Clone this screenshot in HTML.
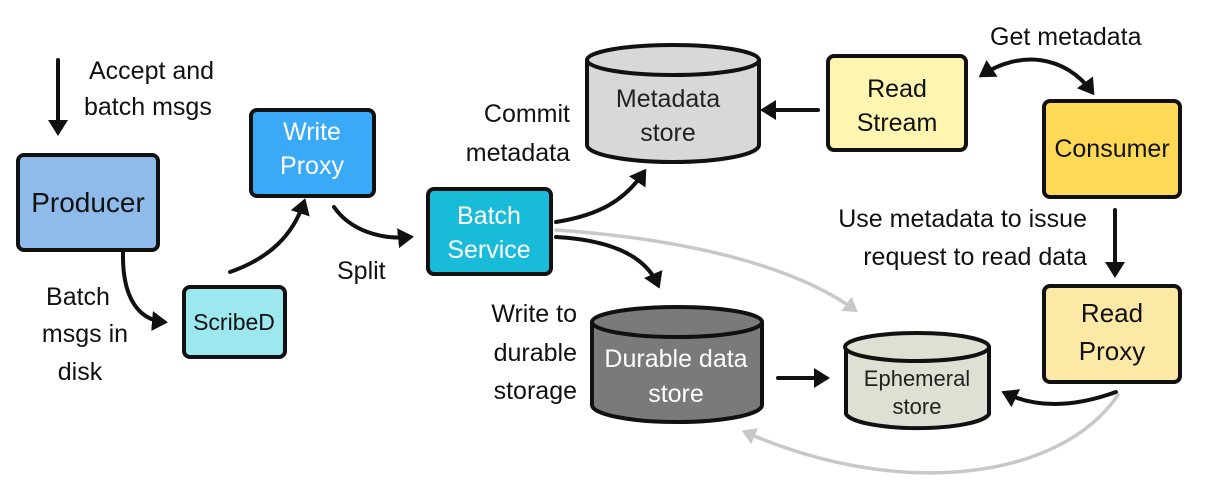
<!DOCTYPE html>
<html><head><meta charset="utf-8"><style>
html,body{margin:0;padding:0;background:#fff;}
svg{display:block;}
text{font-family:"Liberation Sans",sans-serif;}
</style></head><body>
<svg width="1214" height="498" viewBox="0 0 1214 498" xmlns="http://www.w3.org/2000/svg">
<defs>
<marker id="a" markerWidth="5" markerHeight="5" refX="3" refY="2.5" orient="auto" markerUnits="strokeWidth"><path d="M0,0 L4,2.5 L0,5 Z" fill="#111"/></marker>
<marker id="g" markerWidth="5" markerHeight="5" refX="3" refY="2.5" orient="auto" markerUnits="strokeWidth"><path d="M0,0 L4,2.5 L0,5 Z" fill="#c8c8c8"/></marker>
<marker id="s" markerWidth="5" markerHeight="5" refX="1" refY="2.5" orient="auto" markerUnits="strokeWidth"><path d="M4,0 L0,2.5 L4,5 Z" fill="#111"/></marker>
</defs>
<g stroke="#111" stroke-width="4" stroke-linejoin="round">
<rect x="18" y="155" width="140" height="95" rx="6" fill="#8fbbea"/>
<rect x="251" y="110" width="123" height="86" rx="6" fill="#3aa9f7"/>
<rect x="184" y="287" width="101" height="70" rx="6" fill="#9ce8ee"/>
<rect x="428" y="189" width="123" height="85" rx="6" fill="#18bcd8"/>
<rect x="828" y="56" width="138" height="94" rx="6" fill="#fdf5b0"/>
<rect x="1044" y="101" width="136" height="96" rx="6" fill="#fdd955"/>
<rect x="1044" y="286" width="136" height="96" rx="6" fill="#fde9a6"/>
<path d="M587,60 L587,145 A86,17 0 0 0 759,145 L759,60 Z" fill="#d8d8d8"/>
<ellipse cx="673" cy="60" rx="86" ry="15" fill="#d8d8d8"/>
<path d="M592,322 L592,405 A85,17 0 0 0 762,405 L762,322 Z" fill="#7a7a7a"/>
<ellipse cx="677" cy="322" rx="85" ry="15" fill="#7a7a7a"/>
<path d="M846,347 L846,414 A72,16 0 0 0 989,414 L989,347 Z" fill="#dde0d3"/>
<ellipse cx="917" cy="347" rx="72" ry="14" fill="#dde0d3"/>
</g>
<g fill="none" stroke="#111" stroke-width="4" stroke-linecap="round">
<path d="M58,60 L58,132" marker-end="url(#a)"/>
<path d="M123,252 C122,300 140,320 164,322" marker-end="url(#a)"/>
<path d="M230,272 C270,258 293,235 304,202" marker-end="url(#a)"/>
<path d="M334,207 C350,230 380,240 410,237" marker-end="url(#a)"/>
<path d="M556,222 C600,215 625,200 644,172" marker-end="url(#a)"/>
<path d="M556,237 C610,240 645,255 658,285" marker-end="url(#a)"/>
<path d="M818,110 L764,110" marker-end="url(#a)"/>
<path d="M982,75 C1020,50 1065,55 1092,92" marker-end="url(#a)" marker-start="url(#s)"/>
<path d="M1115,210 L1115,274" marker-end="url(#a)"/>
<path d="M778,378 L826,378" marker-end="url(#a)"/>
<path d="M1116,392 C1080,405 1040,410 1005,393" marker-end="url(#a)"/>
</g>
<g fill="none" stroke="#c8c8c8" stroke-width="3.5" stroke-linecap="round">
<path d="M556,230 C700,240 800,270 855,310" marker-end="url(#g)"/>
<path d="M1118,395 C1060,480 900,500 745,432" marker-end="url(#g)"/>
</g>
<g font-size="25" fill="#111">
<text x="89" y="79">Accept and</text>
<text x="84" y="115">batch msgs</text>
<text x="88" y="212" font-size="28" text-anchor="middle">Producer</text>
<text x="312" y="140" fill="#fff" text-anchor="middle">Write</text>
<text x="312" y="174" fill="#fff" text-anchor="middle">Proxy</text>
<text x="234" y="330" font-size="23" text-anchor="middle">ScribeD</text>
<g text-anchor="middle"><text x="78" y="305">Batch</text><text x="85" y="342">msgs in</text><text x="80" y="380">disk</text></g>
<text x="337" y="279">Split</text>
<g text-anchor="end"><text x="570" y="122">Commit</text><text x="570" y="161">metadata</text>
<text x="577" y="322">Write to</text><text x="577" y="361">durable</text><text x="577" y="399">storage</text>
<text x="1087" y="227">Use metadata to issue</text><text x="1087" y="265">request to read data</text></g>
<text x="489" y="224" fill="#fff" text-anchor="middle">Batch</text>
<text x="489" y="258" fill="#fff" text-anchor="middle">Service</text>
<text x="668" y="107" fill="#222" text-anchor="middle">Metadata</text>
<text x="668" y="141" fill="#222" text-anchor="middle">store</text>
<text x="897" y="97" text-anchor="middle">Read</text>
<text x="897" y="131" text-anchor="middle">Stream</text>
<text x="990" y="45">Get metadata</text>
<text x="1112" y="157" text-anchor="middle">Consumer</text>
<text x="1112" y="322" font-size="26" text-anchor="middle">Read</text>
<text x="1112" y="360" font-size="26" text-anchor="middle">Proxy</text>
<text x="676" y="367" fill="#fff" text-anchor="middle">Durable data</text>
<text x="676" y="402" fill="#fff" text-anchor="middle">store</text>
<text x="917" y="386" font-size="22" fill="#222" text-anchor="middle">Ephemeral</text>
<text x="917" y="414" font-size="22" fill="#222" text-anchor="middle">store</text>
</g>
</svg>
</body></html>
